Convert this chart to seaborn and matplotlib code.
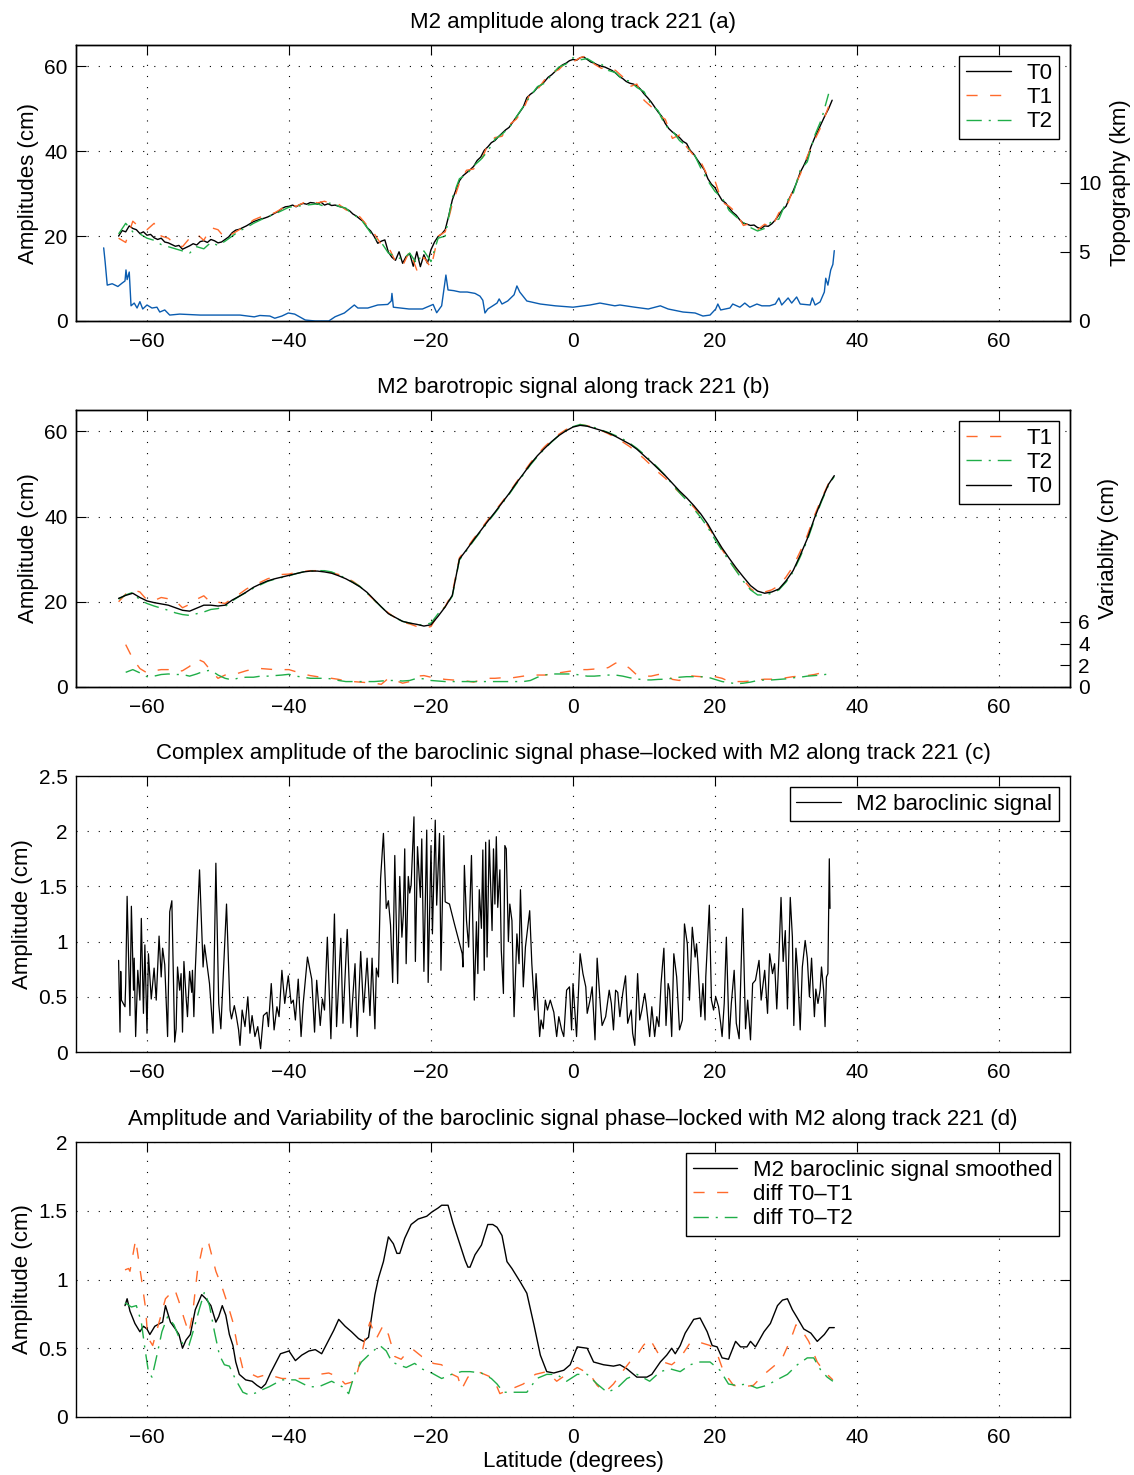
import numpy as np
import matplotlib
matplotlib.use("Agg")
import matplotlib.pyplot as plt
from matplotlib.ticker import FuncFormatter
import seaborn as sns

# ---------------- data ----------------
# Panel (a): along-track M2 amplitudes (cm), 0.5 deg grid from -64 for T0
a_t0_start, a_t0_step = -64.0, 0.5
a_t0 = [20.0, 21.3, 21.0, 22.4, 21.8, 21.5, 20.6, 21.0, 20.2, 20.4,
        19.6, 19.2, 19.5, 18.6, 18.4, 18.0, 17.6, 17.8, 16.9, 17.3,
        17.7, 18.2, 17.9, 18.7, 18.9, 18.5, 19.2, 18.9, 18.4, 18.6,
        19.2, 19.8, 20.8, 21.4, 21.6, 22.0, 22.4, 22.9, 23.4, 23.7,
        24.0, 24.2, 24.5, 24.9, 25.4, 25.8, 26.5, 26.9, 27.0, 27.3,
        26.9, 27.4, 27.7, 27.5, 27.9, 27.8, 27.5, 28.0, 27.3, 27.6,
        27.2, 27.3, 27.0, 26.8, 26.4, 26.0, 25.2, 24.7, 24.0, 23.4,
        22.0, 21.2, 19.9, 18.3, 18.8, 19.1, 16.2, 15.0, 14.3, 16.3,
        13.6, 15.2, 15.9, 12.9, 16.3, 12.8, 15.6, 13.6, 16.8, 18.6,
        19.9, 20.5, 21.5, 24.8, 28.5, 30.8, 33.0, 34.2, 34.9, 35.6,
        36.4, 37.8, 38.6, 40.2, 41.0, 42.0, 42.5, 43.4, 44.2, 45.0,
        45.6, 46.8, 48.0, 49.2, 50.4, 52.6, 53.4, 54.0, 55.0, 55.6,
        56.4, 57.4, 58.0, 58.8, 59.6, 60.3, 60.7, 61.3, 61.6, 61.4,
        62.0, 62.2, 61.6, 61.0, 60.7, 60.3, 60.0, 59.8, 59.4, 59.0,
        58.4, 57.6, 57.1, 56.4, 56.0, 55.8, 55.4, 54.6, 53.5, 52.6,
        51.6, 50.4, 49.2, 48.2, 46.5, 45.3, 44.5, 43.9, 43.2, 42.3,
        41.8, 40.2, 39.3, 38.0, 36.8, 35.6, 33.5, 32.2, 31.4, 29.8,
        28.4, 27.8, 26.6, 25.6, 24.9, 23.8, 23.0, 22.8, 22.5, 22.6,
        22.0, 21.8, 22.4, 22.3, 22.9, 23.8, 25.0, 26.2, 27.0, 29.0,
        30.6, 32.6, 35.0, 36.6, 38.4, 41.0, 43.0, 44.8, 46.6, 48.4,
        50.0, 52.0]
# T1 and T2 on a 1 deg grid from -64 to 36
a_t1 = [19.5, 18.5, 23.5, 22.0, 21.5, 23.0, 20.0, 19.5, 18.0, 17.5,
        19.5, 20.5, 19.0, 22.0, 21.5, 19.5, 20.5, 21.5, 22.5, 23.8,
        24.5, 25.0, 25.5, 26.5, 27.5, 27.0, 27.8, 28.4, 27.8, 28.2,
        27.6, 27.5, 26.2, 25.5, 24.5, 22.5, 20.6, 18.0, 17.5, 14.0,
        13.0, 16.5, 12.0, 15.0, 12.5, 20.0, 21.0, 27.5, 32.5, 35.5,
        35.8, 37.5, 41.5, 43.2, 43.5, 46.2, 47.5, 49.8, 53.8, 54.5,
        56.8, 58.5, 59.2, 60.9, 61.0, 62.0, 62.5, 60.5, 59.5, 59.8,
        59.0, 57.5, 55.2, 55.8, 52.0, 50.5, 48.5, 47.5, 43.0, 43.8,
        41.0, 39.0, 37.5, 34.0, 33.0, 28.0, 27.0, 25.5, 22.5, 23.0,
        21.5, 22.8, 22.0, 25.5, 26.5, 31.0, 34.5, 38.8, 42.5, 46.0,
        50.5]
a_t2 = [20.5, 23.0, 21.0, 20.5, 19.5, 19.0, 18.0, 17.5, 17.0, 16.5,
        16.0, 17.5, 17.0, 18.5, 17.8, 18.8, 20.0, 21.2, 22.0, 23.0,
        23.8, 24.6, 25.2, 26.0, 26.8, 27.0, 27.2, 27.4, 27.6, 27.0,
        28.0, 27.0, 26.6, 25.0, 24.2, 22.0, 19.5, 18.5, 16.0, 15.2,
        14.5, 16.0, 13.5, 16.5, 14.0, 19.5, 20.0, 29.0, 33.5, 34.5,
        36.5, 38.0, 40.0, 42.8, 44.0, 45.5, 48.0, 50.5, 53.0, 55.2,
        56.0, 58.0, 59.8, 60.5, 62.0, 61.5, 61.8, 60.8, 60.5, 59.0,
        58.5, 56.8, 56.5, 55.0, 54.0, 51.0, 49.5, 46.0, 44.8, 42.5,
        41.2, 39.5, 36.0, 33.0, 30.5, 29.0, 26.0, 24.5, 23.2, 22.0,
        21.2, 21.8, 23.5, 24.0, 28.0, 30.0, 35.5, 37.5, 43.5, 47.5,
        53.5]
a_deg_start = -64
# Topography (km): (latitude, depth)
topo_pts = [(-66.1, 5.3), (-65.9, 4.3), (-65.6, 2.6), (-64.9, 2.7), (-64.1, 2.5),
            (-63.5, 2.75), (-63.1, 2.9), (-62.96, 3.7), (-62.8, 3.0), (-62.5, 3.55),
            (-62.25, 1.1), (-61.8, 1.3), (-61.4, 0.94), (-61.0, 1.4), (-60.6, 0.87),
            (-60.0, 1.16), (-59.3, 0.94), (-58.6, 1.0), (-58.2, 0.65), (-57.5, 0.8),
            (-56.8, 0.43), (-55.4, 0.5), (-52.5, 0.43), (-49.7, 0.43), (-46.9, 0.43),
            (-44.9, 0.3), (-44.1, 0.4), (-42.7, 0.36), (-42.0, 0.2), (-41.0, 0.36),
            (-40.1, 0.58), (-39.2, 0.5), (-37.7, 0.07), (-36.3, 0.0), (-34.4, 0.0),
            (-33.5, 0.31), (-32.2, 0.58), (-30.8, 1.16), (-30.3, 0.94), (-28.9, 0.94),
            (-27.5, 1.16), (-26.1, 1.2), (-25.6, 1.45), (-25.5, 2.0), (-25.3, 1.0),
            (-23.1, 0.87), (-21.2, 0.87), (-19.7, 1.2), (-19.2, 0.6), (-18.5, 1.1),
            (-17.9, 3.33), (-17.6, 2.25), (-16.8, 2.2), (-15.9, 2.1), (-14.9, 2.1),
            (-13.8, 2.0), (-13.1, 1.8), (-12.7, 1.5), (-12.4, 0.58), (-12.0, 0.87),
            (-11.3, 1.1), (-10.7, 1.3), (-10.4, 1.6), (-10.0, 1.23), (-9.2, 1.45),
            (-8.3, 1.9), (-7.9, 2.54), (-7.5, 2.1), (-6.5, 1.45), (-4.6, 1.23),
            (-2.5, 1.1), (0.0, 1.0), (2.4, 1.16), (3.8, 1.3), (5.9, 1.1), (6.6, 1.16),
            (8.7, 1.0), (10.6, 0.87), (12.3, 1.1), (13.4, 0.87), (15.5, 0.65),
            (17.2, 0.58), (18.3, 0.36), (19.3, 0.43), (20.1, 0.87), (20.4, 1.23),
            (20.8, 0.8), (22.1, 0.94), (22.5, 1.23), (23.5, 1.0), (24.2, 1.3),
            (24.9, 1.0), (25.9, 1.23), (26.6, 1.1), (27.7, 1.1), (28.5, 1.23),
            (29.0, 1.67), (29.4, 1.16), (30.3, 1.67), (30.8, 1.3), (31.5, 1.74),
            (32.0, 1.23), (33.4, 1.16), (33.7, 1.67), (34.1, 1.16), (34.8, 1.38),
            (35.4, 2.1), (35.6, 3.1), (35.9, 2.6), (36.3, 3.7), (36.6, 4.1), (36.8, 5.1)]

# Panel (b): barotropic amplitudes (cm), 1 deg grid -64..36 plus end point 36.8
b_lat_end = 36.8
b_t0 = [20.8, 21.5, 22.0, 21.0, 20.2, 19.8, 19.5, 19.2, 18.6, 18.0,
        17.8, 18.5, 19.2, 19.2, 19.0, 19.2, 20.4, 21.3, 22.3, 23.4,
        24.2, 24.9, 25.4, 25.8, 26.2, 26.6, 27.0, 27.2, 27.2, 27.0,
        26.7, 26.1, 25.4, 24.5, 23.5, 22.2, 20.5, 18.8, 17.2, 16.3,
        15.4, 15.0, 14.7, 14.3, 14.6, 16.6, 18.8, 21.5, 30.0, 32.2,
        34.5, 36.7, 38.9, 41.0, 43.2, 45.4, 47.8, 50.0, 52.3, 54.3,
        56.0, 57.6, 59.0, 60.1, 61.0, 61.4, 61.2, 60.7, 60.2, 59.6,
        58.8, 57.9, 57.0, 55.8, 54.3, 52.8, 51.2, 49.6, 47.8, 46.0,
        44.4, 42.6, 40.6, 38.2, 35.3, 32.6, 30.2, 27.9, 25.8, 23.8,
        22.5, 22.0, 22.3, 23.0, 24.9, 27.3, 30.9, 34.8, 39.6, 43.8,
        47.6, 49.6]
b_t1 = [20.0, 21.8, 22.8, 22.3, 20.4, 20.3, 21.0, 20.7, 20.2, 18.6,
        19.4, 20.6, 21.4, 19.8, 19.9, 19.6, 20.8, 21.8, 23.0, 23.9,
        24.6, 25.4, 25.9, 26.4, 26.5, 26.9, 27.1, 27.3, 27.3, 27.1,
        26.8, 26.4, 25.7, 24.8, 23.6, 22.0, 20.4, 18.6, 17.4, 16.2,
        15.2, 14.8, 14.2, 13.8, 14.2, 17.0, 18.9, 22.0, 30.3, 32.5,
        34.8, 37.0, 39.2, 41.3, 43.4, 45.6, 48.0, 50.3, 52.6, 54.6,
        56.4, 57.9, 59.3, 60.4, 61.2, 61.6, 61.3, 60.9, 60.2, 59.4,
        58.5, 57.5, 56.4, 55.0, 53.6, 52.0, 50.4, 49.0, 47.2, 45.6,
        44.0, 42.2, 40.2, 37.8, 35.0, 32.2, 29.7, 27.3, 25.2, 23.1,
        22.0, 22.3, 22.8, 23.8, 25.8, 28.3, 31.8, 35.6, 40.2, 44.2,
        47.8, 49.8]
b_t2 = [20.6, 21.6, 22.2, 20.4, 19.6, 19.0, 18.5, 18.0, 17.4, 17.0,
        16.8, 17.2, 17.6, 18.2, 18.4, 18.9, 20.2, 21.3, 22.2, 23.2,
        24.0, 24.8, 25.3, 25.7, 26.1, 26.6, 27.0, 27.2, 27.3, 27.3,
        27.0, 26.3, 25.5, 24.6, 23.6, 22.0, 20.4, 18.8, 17.2, 16.2,
        15.4, 15.0, 14.6, 14.6, 15.0, 17.2, 18.8, 21.3, 29.8, 32.0,
        34.3, 36.5, 38.7, 40.8, 43.0, 45.2, 47.6, 49.8, 52.1, 54.1,
        55.9, 57.5, 59.0, 60.2, 61.1, 61.6, 61.3, 60.9, 60.3, 59.7,
        59.0, 58.2, 57.2, 56.0, 54.6, 53.0, 51.4, 49.6, 47.6, 45.6,
        43.8, 41.8, 39.8, 37.4, 34.6, 32.0, 29.6, 27.2, 24.8, 22.8,
        21.6, 21.6, 22.0, 22.8, 24.6, 27.0, 30.5, 34.4, 39.2, 43.5,
        47.4, 49.4]
# Variability (cm), 1 deg grid -63..36
v_start = -63
v_t1 = [3.9, 2.6, 1.7, 1.3, 1.5, 1.6, 1.6, 1.4, 1.5, 1.9,
        2.6, 2.3, 1.5, 0.8, 1.1, 1.1, 1.3, 1.5, 1.65, 1.7,
        1.65, 1.6, 1.6, 1.6, 1.4, 1.2, 1.05, 0.95, 0.85, 0.8,
        0.7, 0.55, 0.5, 0.45, 0.4, 0.35, 0.25, 0.8, 0.6, 0.35,
        0.5, 1.0, 1.05, 0.9, 0.8, 0.7, 0.65, 0.6, 0.55, 0.45,
        0.65, 0.8, 0.8, 0.85, 0.8, 0.9, 1.0, 1.1, 1.1, 1.1,
        1.2, 1.3, 1.4, 1.5, 1.6, 1.6, 1.65, 1.6, 1.8, 2.2,
        2.2, 1.7, 1.1, 1.0, 1.0, 1.15, 1.2, 0.7, 0.6, 1.1,
        1.0, 0.95, 0.9, 0.95, 0.8, 0.5, 0.5, 0.5, 0.55, 0.65,
        0.72, 0.72, 0.75, 0.85, 0.95, 1.0, 1.05, 1.15, 1.3, 1.2]
v_t2 = [1.35, 1.6, 1.3, 0.95, 1.0, 1.15, 1.2, 1.15, 1.15, 1.0,
        1.2, 1.45, 1.55, 1.1, 0.8, 0.65, 0.85, 0.9, 0.9, 1.0,
        1.0, 1.05, 1.1, 1.17, 1.0, 0.9, 0.8, 0.8, 0.8, 0.75,
        0.6, 0.5, 0.5, 0.5, 0.5, 0.5, 0.55, 0.6, 0.6, 0.55,
        0.6, 0.8, 0.75, 0.6, 0.55, 0.5, 0.5, 0.5, 0.5, 0.5,
        0.5, 0.5, 0.5, 0.5, 0.5, 0.5, 0.5, 0.6, 0.9, 1.1,
        1.2, 1.2, 1.2, 1.2, 1.1, 1.0, 1.0, 1.05, 1.1, 1.1,
        1.0, 0.85, 0.75, 0.65, 0.65, 0.7, 0.72, 0.8, 0.9, 0.95,
        0.95, 0.95, 0.9, 0.7, 0.5, 0.4, 0.3, 0.35, 0.45, 0.6,
        0.65, 0.65, 0.7, 0.75, 0.85, 0.9, 1.0, 1.05, 1.1, 1.2]

# Panel (c): baroclinic complex amplitude (cm): (latitude, amplitude)
c_pts = [(-64.0, 0.83), (-63.8, 0.18), (-63.7, 0.73), (-63.6, 0.47), (-63.1, 0.41), (-63.0, 0.62),
         (-62.8, 1.41), (-62.4, 0.33), (-62.2, 1.32), (-61.9, 0.56), (-61.8, 0.85), (-61.6, 0.14),
         (-61.3, 0.74), (-61.0, 0.47), (-60.8, 1.21), (-60.5, 0.35), (-60.3, 0.97), (-60.0, 0.17),
         (-59.8, 0.89), (-59.4, 0.48), (-59.2, 0.62), (-59.0, 0.76), (-58.7, 0.47), (-58.3, 1.05),
         (-58.0, 0.68), (-57.8, 0.94), (-57.5, 0.79), (-57.1, 0.14), (-56.8, 1.27), (-56.5, 1.37),
         (-56.1, 0.09), (-55.9, 0.21), (-55.7, 0.77), (-55.4, 0.56), (-55.2, 0.71), (-55.0, 0.18),
         (-54.8, 0.82), (-54.5, 0.50), (-54.3, 0.32), (-54.0, 0.73), (-53.7, 0.54), (-53.6, 0.74),
         (-53.4, 0.32), (-53.2, 0.74), (-52.6, 1.65), (-52.1, 0.77), (-51.9, 0.97), (-51.6, 0.82),
         (-51.2, 0.62), (-50.7, 0.17), (-50.3, 1.71), (-49.9, 0.44), (-49.6, 0.21), (-48.8, 1.34),
         (-48.3, 0.38), (-48.1, 0.30), (-47.7, 0.42), (-47.4, 0.32), (-47.1, 0.20), (-46.9, 0.06),
         (-46.6, 0.38), (-46.2, 0.23), (-45.8, 0.50), (-45.5, 0.17), (-45.2, 0.33), (-44.8, 0.14),
         (-44.4, 0.23), (-44.0, 0.03), (-43.6, 0.33), (-43.1, 0.36), (-42.9, 0.23), (-42.5, 0.62),
         (-42.1, 0.20), (-41.7, 0.41), (-41.4, 0.32), (-41.0, 0.74), (-40.6, 0.44), (-40.1, 0.69),
         (-39.7, 0.44), (-39.4, 0.47), (-39.1, 0.29), (-38.7, 0.66), (-38.3, 0.14), (-38.0, 0.44),
         (-37.4, 0.86), (-36.8, 0.66), (-36.4, 0.18), (-36.1, 0.65), (-35.6, 0.24), (-35.3, 0.48),
         (-35.0, 0.38), (-34.6, 1.04), (-34.1, 0.12), (-33.6, 1.25), (-33.3, 0.23), (-32.7, 1.03),
         (-32.4, 0.26), (-31.8, 1.11), (-31.3, 0.22), (-30.7, 0.80), (-30.4, 0.14), (-29.9, 0.91),
         (-29.5, 0.36), (-29.0, 0.85), (-28.6, 0.33), (-28.3, 0.85), (-27.9, 0.21), (-27.7, 0.76),
         (-27.4, 0.68), (-27.1, 1.57), (-26.7, 1.98), (-26.3, 1.30), (-26.0, 1.37), (-25.7, 1.15),
         (-25.4, 0.63), (-25.1, 1.78), (-24.9, 1.22), (-24.7, 0.62), (-24.4, 1.59), (-24.1, 1.04),
         (-23.9, 1.24), (-23.7, 1.84), (-23.5, 0.80), (-23.2, 1.59), (-23.0, 1.44), (-22.8, 1.51),
         (-22.4, 2.13), (-22.2, 0.82), (-21.9, 1.86), (-21.5, 1.40), (-21.3, 1.93), (-21.0, 0.73),
         (-20.6, 2.01), (-20.4, 0.63), (-20.0, 1.87), (-19.8, 1.07), (-19.4, 2.10), (-19.2, 1.33),
         (-18.8, 1.98), (-18.6, 0.74), (-18.2, 1.96), (-18.0, 1.36), (-17.4, 1.34), (-16.7, 1.16),
         (-15.6, 0.89), (-15.5, 0.77), (-15.3, 1.69), (-15.0, 1.19), (-14.7, 0.95), (-14.3, 1.78),
         (-13.9, 0.47), (-13.6, 1.18), (-13.4, 0.71), (-13.2, 1.47), (-12.9, 1.12), (-12.7, 1.83),
         (-12.5, 0.74), (-12.3, 1.90), (-12.1, 0.86), (-11.8, 1.92), (-11.4, 1.10), (-11.2, 1.84),
         (-11.0, 1.34), (-10.8, 1.95), (-10.6, 1.31), (-10.3, 1.65), (-10.1, 0.92), (-9.8, 0.53),
         (-9.6, 1.87), (-9.4, 1.84), (-9.1, 1.00), (-8.9, 1.34), (-8.6, 1.19), (-8.3, 0.32),
         (-7.9, 1.07), (-7.6, 0.80), (-7.4, 1.47), (-7.0, 0.59), (-6.7, 0.95), (-6.1, 1.28),
         (-5.8, 0.80), (-5.4, 0.38), (-5.2, 0.71), (-4.7, 0.14), (-4.5, 0.29), (-4.2, 0.21),
         (-3.9, 0.47), (-3.6, 0.38), (-3.2, 0.47), (-2.7, 0.36), (-2.3, 0.14), (-2.0, 0.32),
         (-1.6, 0.20), (-1.3, 0.14), (-0.9, 0.56), (-0.5, 0.59), (-0.2, 0.20), (0.0, 0.62),
         (0.5, 0.14), (1.0, 0.89), (1.4, 0.71), (1.8, 0.59), (2.0, 0.35), (2.4, 0.47),
         (2.7, 0.59), (3.1, 0.11), (3.4, 0.85), (3.9, 0.38), (4.1, 0.24), (4.6, 0.32),
         (5.1, 0.56), (5.4, 0.44), (5.7, 0.20), (6.0, 0.56), (6.3, 0.54), (6.6, 0.32),
         (7.0, 0.53), (7.4, 0.69), (7.7, 0.26), (8.2, 0.38), (8.4, 0.17), (8.7, 0.06),
         (9.1, 0.71), (9.4, 0.29), (9.7, 0.38), (10.1, 0.53), (10.3, 0.44), (10.8, 0.14),
         (11.1, 0.41), (11.5, 0.14), (11.8, 0.32), (12.1, 0.23), (12.4, 0.62), (12.8, 0.94),
         (13.1, 0.24), (13.4, 0.62), (13.6, 0.56), (13.9, 0.14), (14.2, 0.89), (14.6, 0.68),
         (15.0, 0.20), (15.4, 0.29), (15.7, 1.16), (16.1, 0.98), (16.4, 0.47), (16.8, 1.13),
         (17.2, 0.86), (17.4, 0.98), (17.6, 0.80), (18.0, 0.32), (18.3, 0.62), (18.6, 0.29),
         (18.7, 0.68), (19.2, 1.33), (19.5, 0.47), (19.8, 0.38), (20.1, 0.50), (20.5, 0.41),
         (20.8, 0.26), (21.0, 0.14), (21.3, 0.44), (21.6, 1.04), (22.0, 0.12), (22.3, 0.44),
         (22.7, 0.74), (23.0, 0.26), (23.4, 0.12), (23.9, 1.30), (24.3, 0.21), (24.6, 0.47),
         (25.0, 0.11), (25.3, 0.62), (25.7, 0.65), (26.2, 0.83), (26.5, 0.47), (27.0, 0.74),
         (27.4, 0.35), (27.7, 0.89), (28.1, 0.71), (28.4, 0.80), (28.7, 0.39), (29.0, 0.86),
         (29.3, 1.40), (29.6, 0.82), (29.9, 1.10), (30.2, 0.39), (30.6, 1.40), (30.9, 1.04),
         (31.1, 0.24), (31.4, 0.94), (31.6, 0.77), (32.0, 0.20), (32.3, 0.77), (32.7, 1.01),
         (33.0, 0.85), (33.3, 0.50), (33.6, 0.85), (34.0, 0.32), (34.2, 0.57), (34.5, 0.44),
         (34.8, 0.56), (35.0, 0.77), (35.3, 0.56), (35.5, 0.23), (35.7, 0.68), (35.9, 0.71),
         (36.1, 1.75), (36.2, 1.30)]

# Panel (d): smoothed baroclinic signal and differences (cm): (latitude, value)
d_smooth = [(-63.1, 0.81), (-62.8, 0.86), (-62.4, 0.77), (-61.7, 0.68), (-61.0, 0.62), (-60.5, 0.66),
            (-60.0, 0.64), (-59.6, 0.60), (-58.9, 0.66), (-58.2, 0.68), (-57.8, 0.69), (-57.4, 0.81),
            (-56.7, 0.69), (-56.0, 0.64), (-55.5, 0.60), (-55.0, 0.50), (-54.5, 0.56), (-53.9, 0.60),
            (-53.2, 0.78), (-52.3, 0.89), (-51.7, 0.86), (-51.0, 0.81), (-50.3, 0.69), (-49.9, 0.73),
            (-49.4, 0.81), (-48.9, 0.74), (-48.4, 0.60), (-47.9, 0.52), (-47.5, 0.40), (-47.0, 0.31),
            (-46.1, 0.27), (-45.2, 0.26), (-44.5, 0.23), (-43.9, 0.21), (-43.3, 0.24), (-42.6, 0.32),
            (-41.9, 0.39), (-41.2, 0.46), (-40.0, 0.48), (-39.1, 0.41), (-38.2, 0.45), (-37.2, 0.48),
            (-36.3, 0.49), (-35.4, 0.46), (-34.4, 0.56), (-33.7, 0.63), (-33.0, 0.71), (-32.1, 0.66),
            (-31.2, 0.62), (-30.2, 0.57), (-29.5, 0.55), (-28.8, 0.58), (-28.4, 0.72), (-27.9, 0.89),
            (-27.4, 1.01), (-26.7, 1.13), (-26.0, 1.31), (-25.3, 1.26), (-24.8, 1.19), (-24.4, 1.19),
            (-23.7, 1.30), (-22.8, 1.40), (-21.8, 1.44), (-20.6, 1.46), (-19.9, 1.49), (-19.0, 1.52),
            (-18.5, 1.54), (-17.6, 1.54), (-16.9, 1.41), (-15.9, 1.25), (-15.2, 1.14), (-14.8, 1.09),
            (-14.5, 1.09), (-13.8, 1.18), (-12.9, 1.25), (-12.0, 1.40), (-11.3, 1.40), (-10.7, 1.38),
            (-10.0, 1.32), (-9.3, 1.13), (-8.6, 1.08), (-7.4, 0.98), (-6.5, 0.90), (-5.5, 0.67),
            (-4.6, 0.45), (-3.7, 0.33), (-2.7, 0.32), (-1.3, 0.34), (-0.4, 0.38), (0.6, 0.51),
            (2.0, 0.50), (2.9, 0.40), (4.3, 0.38), (5.7, 0.37), (6.6, 0.38), (7.6, 0.35),
            (9.0, 0.29), (10.4, 0.29), (11.1, 0.31), (12.3, 0.40), (13.2, 0.45), (13.9, 0.50),
            (14.4, 0.46), (15.1, 0.52), (15.8, 0.61), (17.0, 0.71), (17.9, 0.72), (18.9, 0.62),
            (19.6, 0.52), (20.3, 0.51), (21.0, 0.43), (21.9, 0.42), (22.9, 0.55), (23.6, 0.51),
            (24.5, 0.51), (25.0, 0.55), (25.7, 0.51), (26.9, 0.62), (27.8, 0.68), (28.8, 0.81),
            (29.5, 0.85), (30.2, 0.86), (30.9, 0.78), (31.6, 0.72), (32.5, 0.64), (33.5, 0.61),
            (34.4, 0.55), (35.4, 0.60), (36.1, 0.65), (36.8, 0.65)]
d_diff1 = [(-63.1, 1.07), (-62.6, 1.08), (-62.4, 1.06), (-61.6, 1.29), (-60.8, 1.01), (-60.2, 0.79),
           (-59.9, 0.58), (-59.2, 0.52), (-58.4, 0.67), (-57.4, 0.86), (-56.1, 0.93), (-55.5, 0.84),
           (-54.8, 0.72), (-54.1, 0.61), (-53.6, 0.74), (-52.9, 1.06), (-52.0, 1.28), (-51.3, 1.26),
           (-50.3, 1.06), (-49.4, 0.94), (-48.7, 0.83), (-47.9, 0.69), (-47.2, 0.50), (-46.5, 0.35),
           (-45.6, 0.32), (-44.4, 0.29), (-43.1, 0.31), (-41.0, 0.28), (-39.1, 0.28), (-37.2, 0.28),
           (-35.8, 0.31), (-34.4, 0.32), (-33.0, 0.29), (-32.1, 0.24), (-30.7, 0.26), (-30.0, 0.40),
           (-29.3, 0.57), (-28.6, 0.69), (-27.7, 0.57), (-26.7, 0.67), (-26.0, 0.60), (-25.1, 0.44),
           (-24.2, 0.42), (-23.2, 0.48), (-22.5, 0.49), (-21.3, 0.44), (-20.4, 0.43), (-19.7, 0.39),
           (-18.5, 0.38), (-17.4, 0.32), (-16.2, 0.29), (-15.7, 0.20), (-14.8, 0.29), (-13.4, 0.33),
           (-12.0, 0.30), (-11.2, 0.28), (-10.3, 0.17), (-8.4, 0.21), (-7.0, 0.24), (-5.3, 0.31),
           (-3.7, 0.33), (-2.3, 0.26), (-0.9, 0.31), (0.6, 0.36), (2.4, 0.31), (3.4, 0.23),
           (4.5, 0.18), (5.7, 0.24), (7.1, 0.34), (8.0, 0.40), (9.0, 0.45), (9.9, 0.52),
           (10.8, 0.57), (11.8, 0.48), (12.7, 0.40), (13.9, 0.38), (15.1, 0.43), (16.5, 0.54),
           (17.4, 0.55), (19.3, 0.52), (20.3, 0.46), (21.2, 0.33), (22.6, 0.23), (24.0, 0.22),
           (25.4, 0.23), (26.9, 0.31), (28.3, 0.37), (29.5, 0.43), (30.7, 0.57), (31.4, 0.67),
           (32.1, 0.64), (33.2, 0.55), (34.4, 0.40), (35.4, 0.33), (36.6, 0.27)]
d_diff2 = [(-63.1, 0.83), (-62.2, 0.80), (-61.5, 0.81), (-60.8, 0.69), (-60.3, 0.50), (-59.8, 0.33),
           (-59.3, 0.29), (-58.6, 0.45), (-57.9, 0.62), (-57.1, 0.73), (-56.2, 0.67), (-55.5, 0.58),
           (-54.8, 0.52), (-54.1, 0.52), (-53.4, 0.64), (-52.6, 0.79), (-51.9, 0.91), (-51.2, 0.81),
           (-50.5, 0.62), (-49.8, 0.45), (-49.1, 0.38), (-48.4, 0.37), (-47.5, 0.27), (-46.5, 0.18),
           (-45.6, 0.16), (-44.4, 0.18), (-43.7, 0.20), (-42.8, 0.22), (-41.0, 0.27), (-39.1, 0.27),
           (-37.2, 0.22), (-35.8, 0.22), (-34.0, 0.26), (-32.5, 0.22), (-31.6, 0.17), (-30.7, 0.32),
           (-29.8, 0.40), (-28.8, 0.45), (-27.9, 0.49), (-27.2, 0.52), (-26.3, 0.48), (-25.5, 0.40),
           (-24.6, 0.38), (-23.5, 0.36), (-22.3, 0.39), (-21.3, 0.35), (-19.9, 0.32), (-18.5, 0.28),
           (-17.1, 0.31), (-15.7, 0.33), (-14.5, 0.33), (-12.9, 0.32), (-11.5, 0.28), (-10.7, 0.24),
           (-9.8, 0.18), (-8.4, 0.18), (-6.5, 0.18), (-5.1, 0.28), (-3.7, 0.31), (-2.3, 0.31),
           (-0.9, 0.26), (0.6, 0.31), (2.0, 0.31), (3.4, 0.24), (4.8, 0.18), (6.2, 0.21),
           (7.6, 0.28), (9.0, 0.31), (10.8, 0.26), (12.3, 0.33), (13.7, 0.35), (15.1, 0.33),
           (16.5, 0.38), (17.9, 0.40), (19.3, 0.40), (20.7, 0.34), (21.9, 0.24), (23.0, 0.23),
           (24.5, 0.24), (25.9, 0.21), (27.3, 0.23), (28.7, 0.27), (30.2, 0.31), (31.6, 0.38),
           (33.0, 0.43), (33.9, 0.43), (34.9, 0.34), (35.8, 0.29), (36.6, 0.26)]

x_ticks = [-60, -40, -20, 0, 20, 40, 60]
titles = ["M2 amplitude along track 221 (a)",
          "M2 barotropic signal along track 221 (b)",
          "Complex amplitude of the baroclinic signal phase\u2013locked with M2 along track 221 (c)",
          "Amplitude and Variability of the baroclinic signal phase\u2013locked with M2 along track 221 (d)"]

# ---------------- style ----------------
sns.set_style("white")
plt.rcParams['font.family'] = ['Liberation Sans', 'DejaVu Sans']
plt.rcParams.update({
    'axes.edgecolor': 'black', 'axes.linewidth': 1.0,
    'text.color': 'black', 'axes.labelcolor': 'black',
    'xtick.color': 'black', 'ytick.color': 'black',
    'font.size': 15,
})

C_BLACK = 'black'
C_ORANGE = '#ff6a2b'
C_GREEN = '#1fae48'
C_BLUE = '#0a5cb0'
LS_DASH = (0, (8, 9))
LS_DASHDOT = (0, (11, 5, 1.5, 5))
LS_SOLID = '-'
FS = 16       # titles, labels, legends
FS_TICK = 15  # tick labels

fig = plt.figure(figsize=(11.34, 14.75), dpi=100)
L, W = 76 / 1134, (1070 - 76) / 1134
def pos(top_px, bot_px):
    return [L, 1 - bot_px / 1475, W, (bot_px - top_px) / 1475]

def draw(ax, x, y, color, ls, lw=1.0):
    sns.lineplot(x=np.asarray(x, float), y=np.asarray(y, float), ax=ax, color=color,
                 linestyle=ls, linewidth=lw, estimator=None, sort=False, legend=False)
    return ax.lines[-1]

def style_axes(ax, mirror_y=True):
    ax.set_xlim(-70, 70)
    ax.set_xticks(x_ticks)
    ax.grid(True, linestyle=(0, (1, 9)), color='black', linewidth=0.8)
    ax.tick_params(direction='in', length=7, width=0.8, top=True, right=mirror_y,
                   labelsize=FS_TICK)
    ax.tick_params(axis='x', pad=8)
    ax.tick_params(axis='y', pad=6)
    for s in ax.spines.values():
        s.set_linewidth(1.0)
        s.set_color('black')
    ax.set_axisbelow(False)

def legend(ax, handles, labels):
    lg = ax.legend(handles, labels, loc='upper right', fontsize=FS, frameon=True, fancybox=False,
                   edgecolor='black', framealpha=1, borderaxespad=0.5, handlelength=2.0,
                   handletextpad=0.7, labelspacing=0.15, borderpad=0.3)
    lg.get_frame().set_linewidth(1.0)
    lg.set_zorder(10)
    return lg

fmt = FuncFormatter(lambda v, p: f"{v:g}")
TITLE_PAD = 12.5

# ---------------- panel (a) ----------------
ax = fig.add_axes(pos(45, 321))
lat_t0 = a_t0_start + a_t0_step * np.arange(len(a_t0))
lat_1 = a_deg_start + np.arange(len(a_t1))
h0 = draw(ax, lat_t0, a_t0, C_BLACK, LS_SOLID, 1.0)
h1 = draw(ax, lat_1, a_t1, C_ORANGE, LS_DASH, 1.0)
h2 = draw(ax, lat_1, a_t2, C_GREEN, LS_DASHDOT, 1.0)
style_axes(ax, mirror_y=False)
ax.set_ylim(0, 65)
ax.set_yticks([0, 20, 40, 60])
ax.set_ylabel("Amplitudes (cm)", fontsize=FS)
ax.set_title(titles[0], fontsize=FS, pad=TITLE_PAD)
ax2 = ax.twinx()
tlat, tval = zip(*topo_pts)
draw(ax2, tlat, tval, C_BLUE, LS_SOLID, 1.0)
ax2.set_ylim(0, 20)
ax2.set_yticks([0, 5, 10])
ax2.yaxis.set_major_formatter(fmt)
ax2.tick_params(direction='in', length=7, width=0.8, labelsize=FS_TICK, pad=6)
ax2.set_ylabel("Topography (km)", fontsize=FS, labelpad=6)
ax2.grid(False)
ax2.set_xlim(-70, 70)
legend(ax2, [h0, h1, h2], ["T0", "T1", "T2"])

# ---------------- panel (b) ----------------
ax = fig.add_axes(pos(410, 687))
lat_b = list(range(-64, 37)) + [b_lat_end]
hb1 = draw(ax, lat_b, b_t1, C_ORANGE, LS_DASH, 1.0)
hb2 = draw(ax, lat_b, b_t2, C_GREEN, LS_DASHDOT, 1.0)
hb0 = draw(ax, lat_b, b_t0, C_BLACK, LS_SOLID, 1.0)
style_axes(ax, mirror_y=False)
ax.set_ylim(0, 65)
ax.set_yticks([0, 20, 40, 60])
ax.set_ylabel("Amplitude (cm)", fontsize=FS)
ax.set_title(titles[1], fontsize=FS, pad=TITLE_PAD)
ax2 = ax.twinx()
lat_v = v_start + np.arange(len(v_t1))
draw(ax2, lat_v, v_t1, C_ORANGE, LS_DASH, 1.0)
draw(ax2, lat_v, v_t2, C_GREEN, LS_DASHDOT, 1.0)
ax2.set_ylim(0, 25.5)
ax2.set_yticks([0, 2, 4, 6])
ax2.tick_params(direction='in', length=7, width=0.8, labelsize=FS_TICK, pad=6)
ax2.set_ylabel("Variablity (cm)", fontsize=FS, labelpad=6)
ax2.grid(False)
ax2.set_xlim(-70, 70)
legend(ax2, [hb1, hb2, hb0], ["T1", "T2", "T0"])

# ---------------- panel (c) ----------------
ax = fig.add_axes(pos(776, 1052))
clat, cval = zip(*c_pts)
hc = draw(ax, clat, cval, C_BLACK, LS_SOLID, 0.9)
style_axes(ax)
ax.set_ylim(0, 2.5)
ax.set_yticks([0, 0.5, 1, 1.5, 2, 2.5])
ax.yaxis.set_major_formatter(fmt)
ax.set_ylabel("Amplitude (cm)", fontsize=FS)
ax.set_title(titles[2], fontsize=FS, pad=TITLE_PAD)
legend(ax, [hc], ["M2 baroclinic signal"])

# ---------------- panel (d) ----------------
ax = fig.add_axes(pos(1142, 1417))
x0, y0 = zip(*d_smooth)
x1, y1 = zip(*d_diff1)
x2, y2 = zip(*d_diff2)
hd0 = draw(ax, x0, y0, C_BLACK, LS_SOLID, 1.0)
hd1 = draw(ax, x1, y1, C_ORANGE, LS_DASH, 1.0)
hd2 = draw(ax, x2, y2, C_GREEN, LS_DASHDOT, 1.0)
style_axes(ax)
ax.set_ylim(0, 2)
ax.set_yticks([0, 0.5, 1, 1.5, 2])
ax.yaxis.set_major_formatter(fmt)
ax.set_ylabel("Amplitude (cm)", fontsize=FS)
ax.set_xlabel("Latitude (degrees)", fontsize=FS, labelpad=3)
ax.set_title(titles[3], fontsize=FS, pad=TITLE_PAD)
legend(ax, [hd0, hd1, hd2], ["M2 baroclinic signal smoothed", "diff T0\u2013T1", "diff T0\u2013T2"])

fig.savefig("out.png", dpi=100)
